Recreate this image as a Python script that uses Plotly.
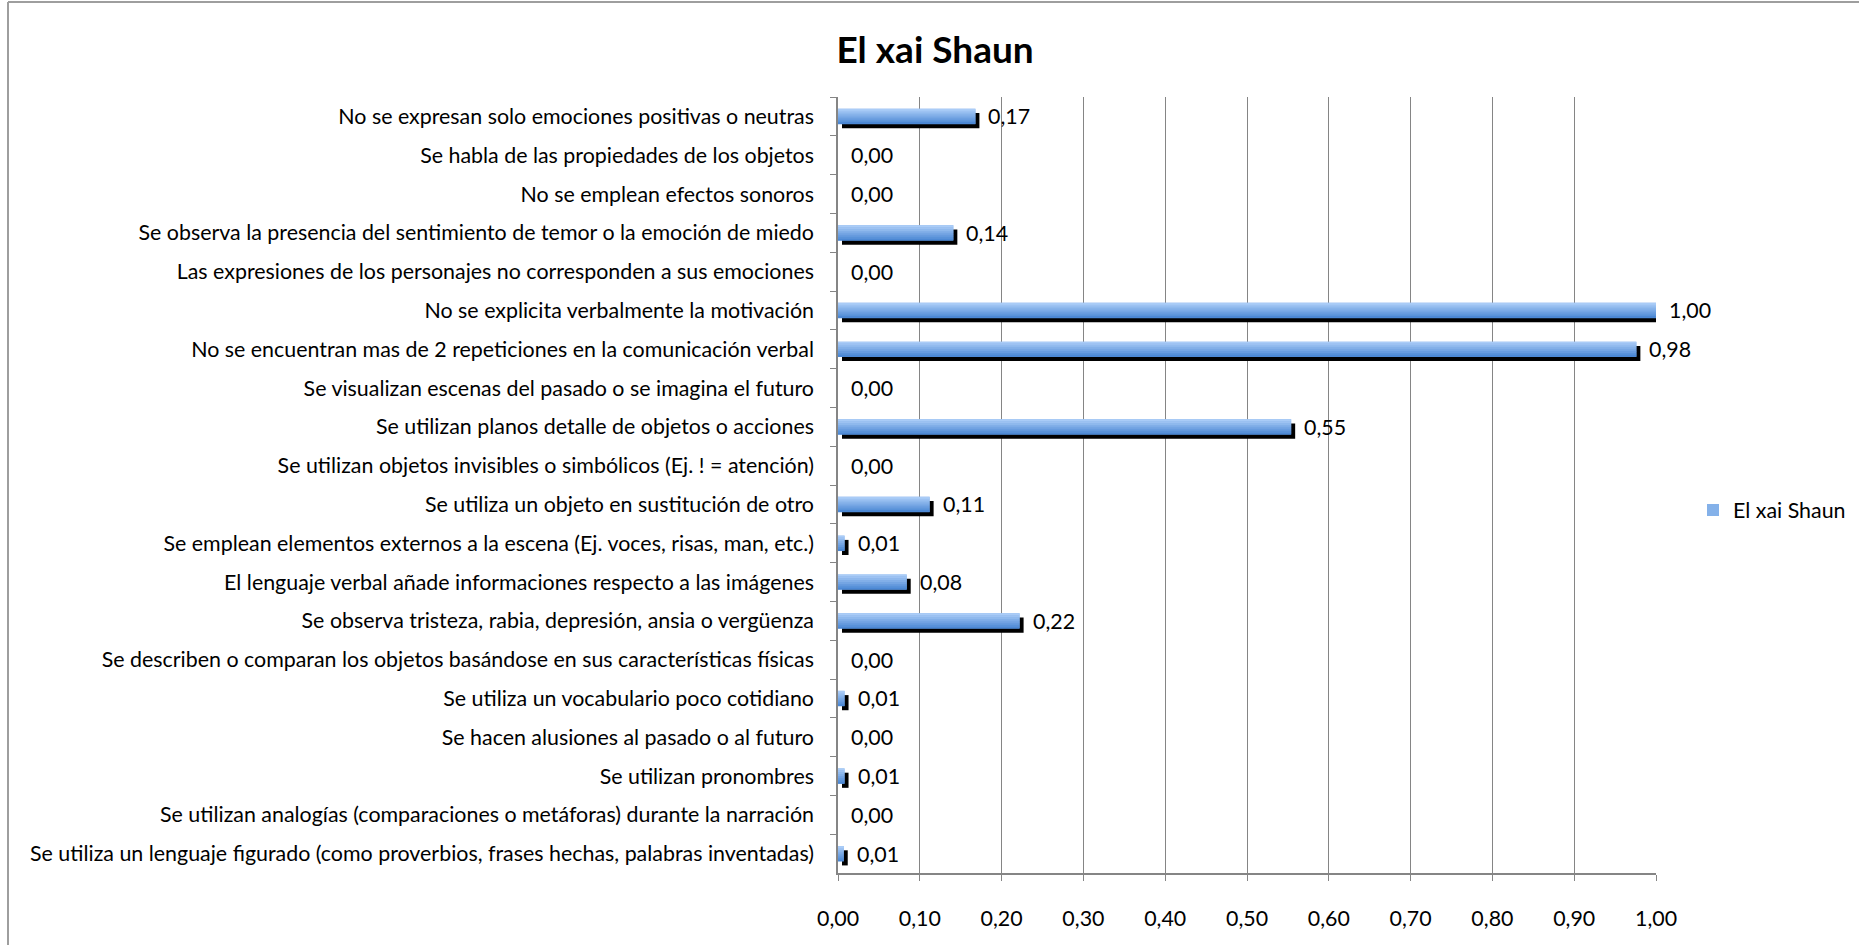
import plotly.graph_objects as go

categories = [
    "No se expresan solo emociones positivas o neutras",
    "Se habla de las propiedades de los objetos",
    "No se emplean efectos sonoros",
    "Se observa la presencia del sentimiento de temor o la emoción de miedo",
    "Las expresiones de los personajes no corresponden a sus emociones",
    "No se explicita verbalmente la motivación",
    "No se encuentran mas de 2 repeticiones en la comunicación verbal",
    "Se visualizan escenas del pasado o se imagina el futuro",
    "Se utilizan planos detalle de objetos o acciones",
    "Se utilizan objetos invisibles o simbólicos (Ej. ! = atención)",
    "Se utiliza un objeto en sustitución de otro",
    "Se emplean elementos externos a la escena (Ej. voces, risas, man, etc.)",
    "El lenguaje verbal añade informaciones respecto a las imágenes",
    "Se observa tristeza, rabia, depresión, ansia o vergüenza",
    "Se describen o comparan los objetos basándose en sus características físicas",
    "Se utiliza un vocabulario poco cotidiano",
    "Se hacen alusiones al pasado o al futuro",
    "Se utilizan pronombres",
    "Se utilizan analogías (comparaciones o metáforas) durante la narración",
    "Se utiliza un lenguaje figurado (como proverbios, frases hechas, palabras inventadas)",
]
values = [0.168, 0.0, 0.0, 0.141, 0.0, 1.0, 0.976, 0.0, 0.554, 0.0,
          0.112, 0.008, 0.084, 0.222, 0.0, 0.008, 0.0, 0.008, 0.0, 0.007]
series_name = "El xai Shaun"
x_ticks = [0.0, 0.1, 0.2, 0.3, 0.4, 0.5, 0.6, 0.7, 0.8, 0.9, 1.0]

FONT = "Lato"
FS = 21.4
W, H = 1859, 945
L, R, T, B = 838, 1656, 97, 873
PXU = 1.0 / (R - L)  # data units per pixel on the value axis

bar_w = 0.39
shadow_dx = 4 * PXU
shadow_dy = 0.11

def lerp(c1, c2, t):
    return "#%02x%02x%02x" % tuple(round(a + (b - a) * t) for a, b in zip(c1, c2))

light = (0xAA, 0xCC, 0xF7)
dark = (0x4C, 0x88, 0xD4)

fig = go.Figure()

# shadow
fig.add_trace(go.Bar(
    y=categories, x=values, base=shadow_dx, orientation="h",
    width=bar_w, offset=-bar_w / 2 + shadow_dy,
    marker=dict(color="#000000", line=dict(width=0)),
    showlegend=False, hoverinfo="skip",
))
# main bar (legend entry)
fig.add_trace(go.Bar(
    y=categories, x=values, orientation="h", name=series_name,
    width=bar_w, offset=-bar_w / 2,
    marker=dict(color=lerp(light, dark, 0.4), line=dict(width=0)),
))
# gradient strips
N = 8
for i in range(N):
    t = i / (N - 1)
    fig.add_trace(go.Bar(
        y=categories, x=values, orientation="h",
        width=bar_w / N * 1.15, offset=-bar_w / 2 + i * bar_w / N,
        marker=dict(color=lerp(light, dark, t), line=dict(width=0)),
        showlegend=False, hoverinfo="skip",
    ))

# data labels, anchored at each bar end
for cat, v in zip(categories, values):
    fig.add_annotation(
        x=v, y=cat, xref="x", yref="y", xanchor="left", yanchor="middle",
        xshift=11, showarrow=False,
        text=f"{v:.2f}".replace(".", ","),
        font=dict(family=FONT, size=FS, color="#000000"),
    )

px_x = lambda p: (p - L) / (R - L)
px_y = lambda p: (B - p) / (B - T)
border = dict(color="#9e9e9e", width=2)
fig.add_shape(type="line", xref="paper", yref="paper",
              x0=px_x(8), x1=px_x(W + 5), y0=px_y(2), y1=px_y(2), line=border)
fig.add_shape(type="line", xref="paper", yref="paper",
              x0=px_x(8), x1=px_x(8), y0=px_y(2), y1=px_y(H + 5), line=border)

fig.update_layout(
    width=W, height=H,
    margin=dict(l=L, r=W - R, t=T, b=H - B, autoexpand=False),
    barmode="overlay",
    separators=",.",
    paper_bgcolor="white", plot_bgcolor="white",
    font=dict(family=FONT, size=FS, color="#000000"),
    title=dict(text="<b>El xai Shaun</b>", x=0.503, xref="container", xanchor="center",
               y=1 - 50 / H, yref="container", yanchor="middle",
               font=dict(family=FONT, size=37, color="#000000")),
    legend=dict(x=px_x(1693), xanchor="left", y=px_y(510), yanchor="middle",
                font=dict(family=FONT, size=FS), bgcolor="rgba(0,0,0,0)"),
    showlegend=True,
)
fig.update_xaxes(
    range=[0, 1], tickvals=x_ticks, tickformat=".2f",
    showgrid=True, gridcolor="#858585", gridwidth=1.3,
    showline=True, linecolor="#858585", linewidth=1.5,
    ticks="outside", ticklen=6, tickcolor="#858585",
    ticklabelstandoff=20, zeroline=False,
    tickfont=dict(family=FONT, size=FS),
)
fig.update_yaxes(
    type="category", categoryorder="array", categoryarray=categories,
    range=[len(categories) - 0.5, -0.5],
    showgrid=False, showline=True, linecolor="#858585", linewidth=1.5,
    ticks="outside", ticklen=6, tickcolor="#858585", tickson="boundaries",
    ticklabelstandoff=18,
    tickfont=dict(family=FONT, size=FS),
)

fig.write_html("out.html", config={"displayModeBar": False},
               post_script="document.body.style.margin='0';")
